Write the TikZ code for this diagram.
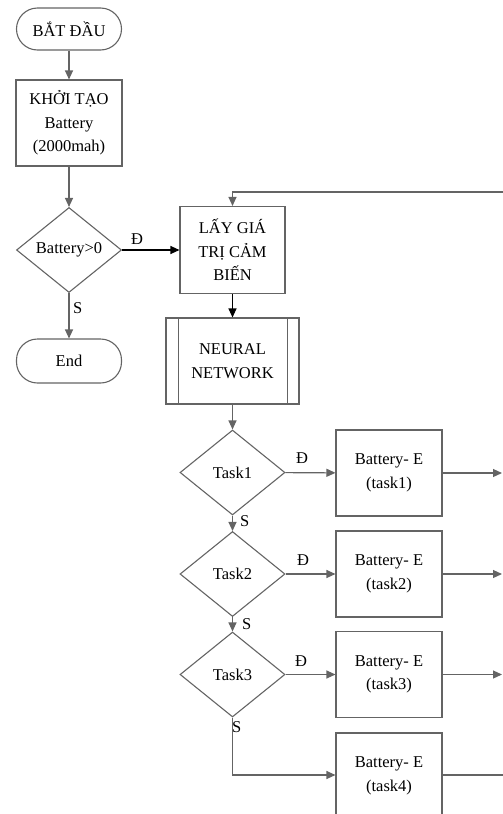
\documentclass[tikz,border=0pt]{standalone}
\usepackage{fontspec}
\setmainfont{Liberation Serif}
\usetikzlibrary{shapes.geometric,arrows.meta}
\definecolor{lc}{RGB}{100,100,100}
\newcommand{\fs}{\fontsize{16.5}{23.5}\selectfont}
\begin{document}
\begin{tikzpicture}[x=1pt,y=-1pt,
  line/.style={draw=lc, line width=1.1pt},
  arr/.style={line, -{Triangle[length=9pt,width=8pt]}},
  darr/.style={draw=black, line width=1.1pt, -{Triangle[length=9pt,width=8pt]}},
  box/.style={draw=lc, line width=1.1pt, rectangle, minimum width=106pt,
    minimum height=86pt, inner sep=0pt, align=center, font=\fs},
  term/.style={box, rounded corners=21pt, minimum width=105pt, minimum height=42pt},
  dec/.style={diamond, draw=lc, line width=1.1pt, aspect=1.235,
    minimum width=105pt, minimum height=85pt, inner sep=0pt, font=\fs},
  lbl/.style={font=\fs, inner sep=0pt, anchor=west}]
\path[use as bounding box] (0,0) rectangle (503,814);
\clip (0,0) rectangle (503,814);

% left column
\node[term] (start) at (69,29) {BẮT ĐẦU};
\node[box] (init) at (69,123) {KHỞI TẠO\\Battery\\(2000mah)};
\node[dec] (bat) at (69,250) {Battery>0};
\node[term, minimum height=44pt] (end) at (69,361) {End};

% main column
\node[box, minimum width=105pt, minimum height=87pt] (read) at (232.5,250) {LẤY GIÁ\\TRỊ CẢM\\BIẾN};
\node[box, minimum width=133pt] (nn) at (232.5,361) {NEURAL\\NETWORK};
\draw[line] ([xshift=13pt]nn.north west) -- ([xshift=13pt]nn.south west);
\draw[line] ([xshift=-12pt]nn.north east) -- ([xshift=-12pt]nn.south east);

\node[dec] (t1) at (232.5,472.5) {Task1};
\node[dec] (t2) at (232.5,574) {Task2};
\node[dec] (t3) at (232.5,674.5) {Task3};

\node[box] (b1) at (389,473) {Battery- E\\(task1)};
\node[box] (b2) at (389,574) {Battery- E\\(task2)};
\node[box] (b3) at (389,674.5) {Battery- E\\(task3)};
\node[box] (b4) at (389,776) {Battery- E\\(task4)};

% free ends at the right edge
\coordinate (fb) at (503,192);
\coordinate (o1) at (502,473);
\coordinate (o2) at (502,574);
\coordinate (o3) at (502,674.5);
\coordinate (o4) at (503,775);

% connectors
\draw[arr] (start) -- (init);
\draw[arr] (init) -- (bat);
\draw[darr] (bat) -- (read);
\draw[arr] (bat) -- (end);
\draw[darr] (read) -- (nn);
\draw[arr] (fb) -| (read.north);
\draw[arr] (nn) -- (t1);
\draw[arr] (t1) -- (t2);
\draw[arr] (t2) -- (t3);
\draw[arr] (t1) -- (b1);
\draw[arr] (t2) -- (b2);
\draw[arr] (t3) -- (b3);
\draw[arr] (t3.south) |- (b4.west |- o4);
\draw[arr] (b1) -- (o1);
\draw[arr] (b2) -- (o2);
\draw[arr] (b3) -- (o3);
\draw[line] (b4.east |- o4) -- (o4);

% branch labels
\node[lbl] at (131,239) {Đ};
\node[lbl] at (73,308) {S};
\node[lbl] at (296,458) {Đ};
\node[lbl] at (297,560) {Đ};
\node[lbl] at (295,661) {Đ};
\node[lbl] at (240,521) {S};
\node[lbl] at (242,624) {S};
\node[lbl] at (232,727) {S};
\end{tikzpicture}
\end{document}
